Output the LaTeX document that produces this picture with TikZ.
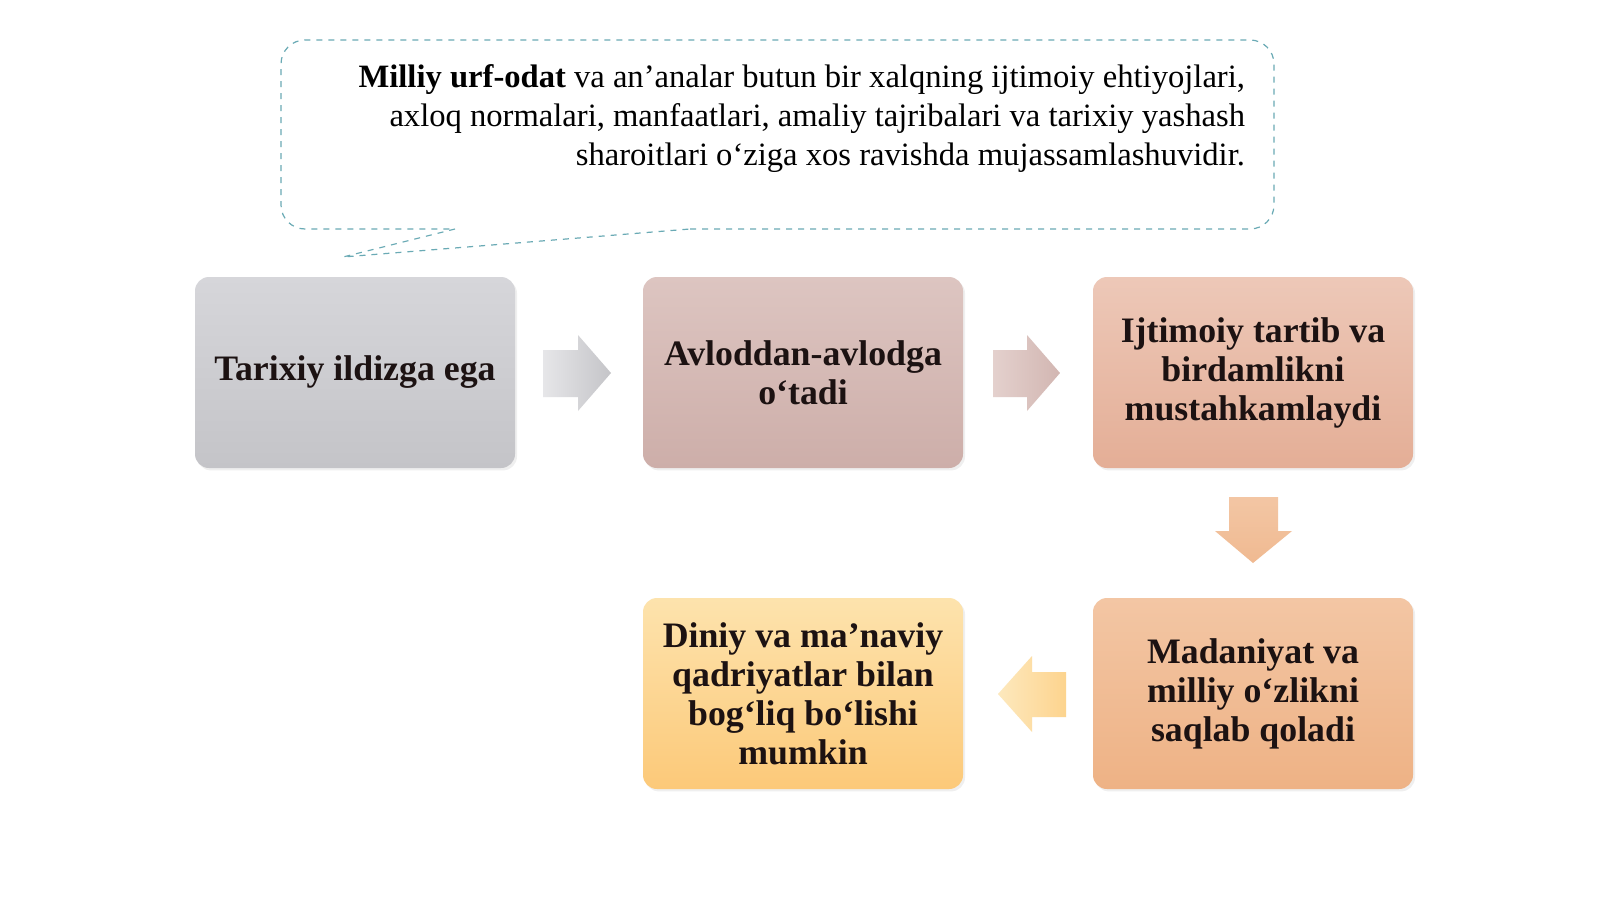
\documentclass[tikz,border=0pt]{standalone}
\usepackage{fontspec}
\setmainfont{Liberation Serif}
\usetikzlibrary{shadows}

\definecolor{notedash}{HTML}{6AAAB5}
\definecolor{cardtext}{HTML}{1C1212}
\definecolor{grayTop}{HTML}{D6D6DA}
\definecolor{grayBot}{HTML}{C4C4C8}
\definecolor{roseTop}{HTML}{DDC5C1}
\definecolor{roseBot}{HTML}{CDAEA9}
\definecolor{salmonTop}{HTML}{EDC8B8}
\definecolor{salmonBot}{HTML}{E4AE96}
\definecolor{peachTop}{HTML}{F3C6A4}
\definecolor{peachBot}{HTML}{EEB285}
\definecolor{goldTop}{HTML}{FDE3AD}
\definecolor{goldBot}{HTML}{FCC979}

\tikzset{
  card/.style={rounded corners=7pt, minimum width=160pt, minimum height=95.5pt,
    align=center, text=cardtext, font=\bfseries\fontsize{17.9}{19.5}\selectfont,
    drop shadow={opacity=0.12, shadow xshift=1pt, shadow yshift=-1.2pt}},
  noteline/.style={draw=notedash, dashed, line width=0.6pt},
}

\begin{document}
\begin{tikzpicture}[x=0.5pt, y=-0.5pt]
    \useasboundingbox[fill=white] (0,0) rectangle (1600,899);

    % callout
    \fill[white] (281,40) rectangle (1274,229);
    \draw[noteline, rounded corners=12pt] (690,229) -- (1274,229) -- (1274,40) -- (281,40) -- (281,229) -- (455,229);
    \draw[noteline] (455,229) -- (343,257) -- (690,229);
    \node[anchor=east, align=right, text=black, font=\fontsize{16.3}{19.5}\selectfont] (note) at (1252,119)
      {\textbf{Milliy urf-odat} va an’analar butun bir xalqning ijtimoiy ehtiyojlari,\\
       axloq normalari, manfaatlari, amaliy tajribalari va tarixiy yashash\\
       sharoitlari o‘ziga xos ravishda mujassamlashuvidir.};

    % cards
    \node[card, top color=grayTop, bottom color=grayBot] (roots) at (355,372.5) {Tarixiy ildizga ega};
    \node[card, top color=roseTop, bottom color=roseBot] (passes) at (803,372.5) {Avloddan-avlodga\\o‘tadi};
    \node[card, top color=salmonTop, bottom color=salmonBot] (order) at (1253,372.5) {Ijtimoiy tartib va\\birdamlikni\\mustahkamlaydi};
    \node[card, top color=peachTop, bottom color=peachBot] (culture) at (1253,693.5) {Madaniyat va\\milliy o‘zlikni\\saqlab qoladi};
    \node[card, top color=goldTop, bottom color=goldBot] (faith) at (803,693.5) {Diniy va ma’naviy\\qadriyatlar bilan\\bog‘liq bo‘lishi\\mumkin};

    % block arrows
    \shade[left color=grayTop!60, right color=grayBot] (543,350) -- (578,350) -- (578,335) -- (611,373) -- (578,411) -- (578,397) -- (543,397) -- cycle;
    \shade[left color=roseTop!80, right color=roseBot!90] (993,350) -- (1027,350) -- (1027,335) -- (1060,373) -- (1027,411) -- (1027,397) -- (993,397) -- cycle;
    \shade[top color=peachTop, bottom color=peachBot!90] (1229,497) -- (1278,497) -- (1278,531) -- (1292,531) -- (1253,563) -- (1215,531) -- (1229,531) -- cycle;
    \shade[right color=goldTop!40!goldBot, left color=goldTop!80] (1066,672) -- (1032,672) -- (1032,656) -- (998,694) -- (1032,732) -- (1032,717) -- (1066,717) -- cycle;
\end{tikzpicture}
\end{document}
